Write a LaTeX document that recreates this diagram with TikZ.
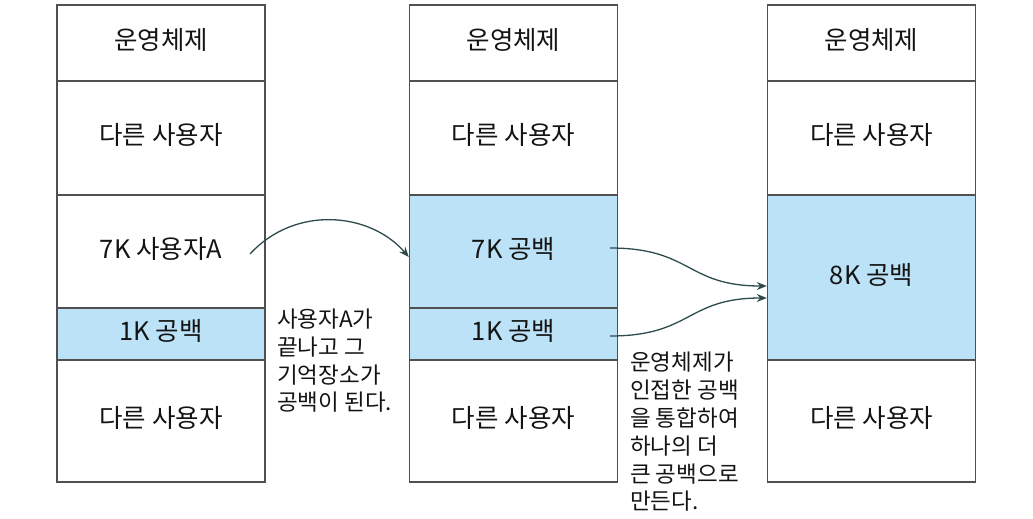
\documentclass[tikz,border=0pt]{standalone}
\usepackage{fontspec}
\setmainfont{Noto Sans CJK KR}
\usetikzlibrary{arrows.meta}
\definecolor{blk}{HTML}{BBE2F6}
\definecolor{edge}{HTML}{505050}
\definecolor{arr}{HTML}{2F4A4F}
\definecolor{txt}{HTML}{141414}
\tikzset{
  cell/.style={draw=edge, line width=1.4pt, minimum width=208pt, inner sep=0pt,
    font=\fontsize{25.5}{30}\selectfont, text=txt, text height=19.5pt, text depth=5.7pt},
  freecell/.style={cell, fill=blk},
  note/.style={align=left, anchor=north west, inner sep=0pt, text=txt},
  conn/.style={draw=arr, line width=1.3pt, -{Stealth[length=10pt,width=8pt]}},
}
\begin{document}
\begin{tikzpicture}[x=1pt,y=-1pt]
\useasboundingbox (0,0) rectangle (1033,519);
% column 1
\node[cell, minimum height=76pt]  (a1) at (161,43)    {운영체제};
\node[cell, minimum height=114pt] (a2) at (161,138)   {다른 사용자};
\node[cell, minimum height=113pt] (a3) at (161,251.5) {7K 사용자A};
\node[freecell, minimum height=52pt] (a4) at (161,334) {1K 공백};
\node[cell, minimum height=122pt] (a5) at (161,421)   {다른 사용자};
% column 2
\node[cell, minimum height=76pt]  (b1) at (513.5,43)    {운영체제};
\node[cell, minimum height=114pt] (b2) at (513.5,138)   {다른 사용자};
\node[freecell, minimum height=113pt] (b3) at (513.5,251.5) {7K 공백};
\node[freecell, minimum height=52pt] (b4) at (513.5,334) {1K 공백};
\node[cell, minimum height=122pt] (b5) at (513.5,421)   {다른 사용자};
% column 3
\node[cell, minimum height=76pt]  (c1) at (871.5,43)    {운영체제};
\node[cell, minimum height=114pt] (c2) at (871.5,138)   {다른 사용자};
\node[freecell, minimum height=165pt] (c3) at (871.5,277.5) {8K 공백};
\node[cell, minimum height=122pt] (c5) at (871.5,421)   {다른 사용자};
% notes
\node[note, font=\fontsize{22.5}{27.7}\selectfont] (n1) at (277,309)
  {사용자A가\\끝나고 그\\기억장소가\\공백이 된다.};
\node[note, font=\fontsize{22.5}{27.8}\selectfont] (n2) at (630,352)
  {운영체제가\\인접한 공백\\을 통합하여\\하나의 더\\큰 공백으로\\만든다.};
% connectors
\coordinate (s1) at (250,254);
\coordinate (s2) at (610,248);
\coordinate (s3) at (610,336);
\coordinate (t1) at (b3.west |- 0,257);
\coordinate (t2) at (c3.west |- 0,286);
\coordinate (t3) at (c3.west |- 0,298);
\draw[conn] (s1) .. controls (295,205) and (370,212) .. (t1);
\draw[conn] (s2) .. controls (692,248) and (686,286) .. (t2);
\draw[conn] (s3) .. controls (692,336) and (686,298) .. (t3);
\end{tikzpicture}
\end{document}
